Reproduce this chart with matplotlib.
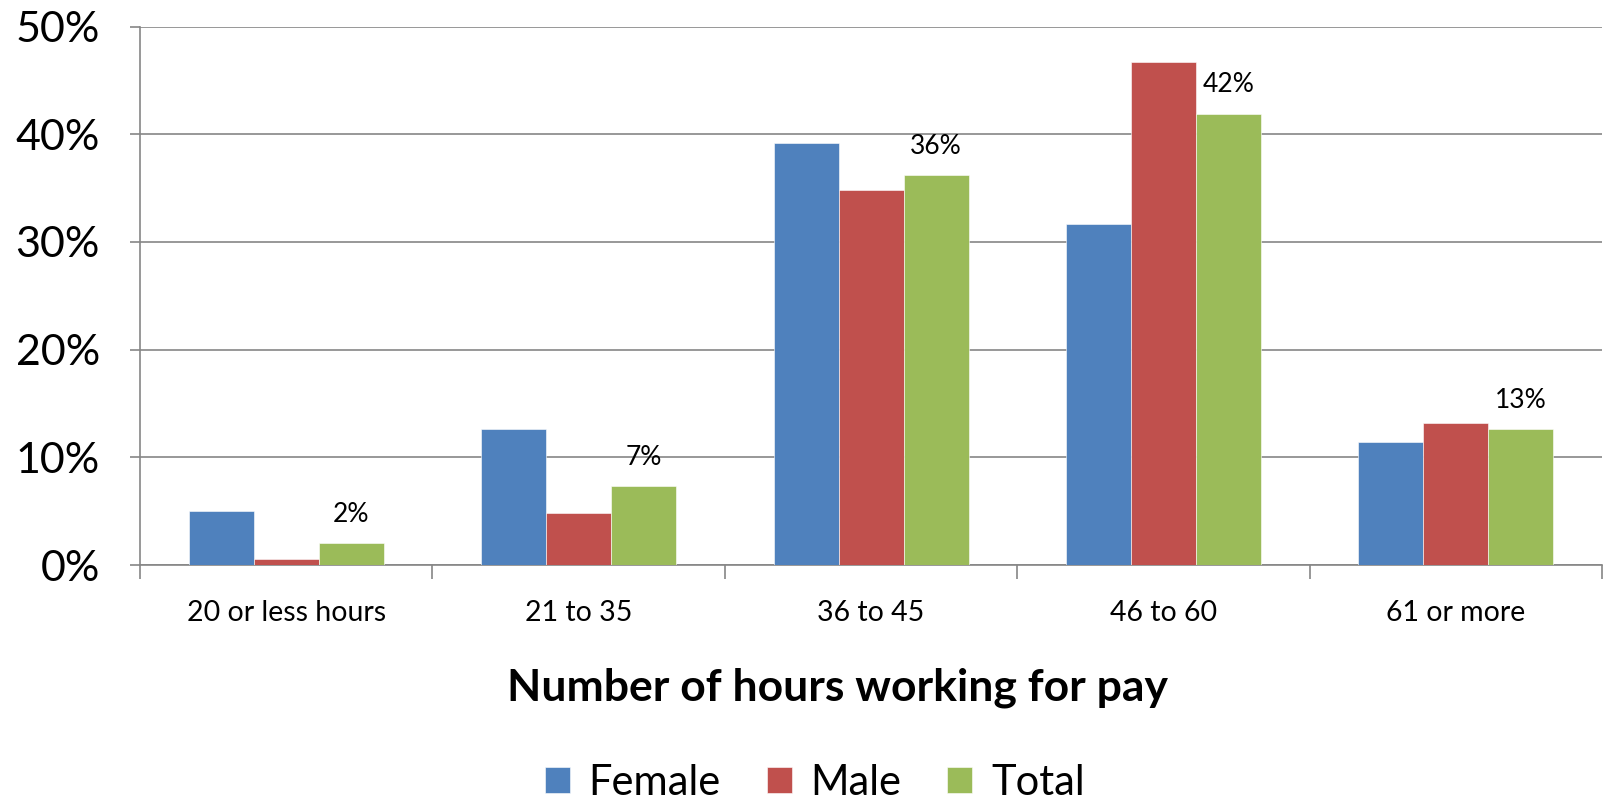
import matplotlib.pyplot as plt
import numpy as np
from matplotlib.ticker import PercentFormatter

plt.rcParams['font.family'] = ['Lato', 'DejaVu Sans']

categories = ["20 or less hours", "21 to 35", "36 to 45", "46 to 60", "61 or more"]
female = [5.0, 12.6, 39.2, 31.7, 11.4]
male = [0.6, 4.8, 34.8, 46.7, 13.2]
total = [2.0, 7.3, 36.2, 41.9, 12.6]
total_labels = ["2%", "7%", "36%", "42%", "13%"]

series_names = ["Female", "Male", "Total"]
colors = ["#4F81BD", "#C0504D", "#9BBB59"]

fig = plt.figure(figsize=(16.04, 8.02), dpi=100)
ax = fig.add_axes([0.0873, 0.2955, 0.9115, 0.6713])

x = np.arange(len(categories))
w = 2 / 9
for k, (vals, name, c) in enumerate(zip([female, male, total], series_names, colors)):
    ax.bar(x + (k - 1) * w, vals, width=w, color=c, label=name,
           edgecolor="white", linewidth=0.4, zorder=3)

# labels above the total bars
for xi, v, lab in zip(x, total, total_labels):
    ax.annotate(lab, (xi + w, v), xytext=(0, 12), textcoords="offset points",
                ha="center", va="bottom", fontsize=19)

ax.set_xlim(-0.5, len(categories) - 0.5)
ax.set_ylim(0, 50)
ax.set_yticks(np.arange(0, 51, 10))
ax.yaxis.set_major_formatter(PercentFormatter(decimals=0))
ax.tick_params(axis="y", labelsize=31, length=7, color="#868686", width=1.2, pad=22)

ax.set_xticks(np.arange(-0.5, len(categories), 1))
ax.set_xticklabels([])
ax.set_xticks(x, minor=True)
ax.set_xticklabels(categories, minor=True, fontsize=20.5)
ax.tick_params(axis="x", which="major", length=10, color="#868686", width=1.2)
ax.tick_params(axis="x", which="minor", length=0, pad=25)

ax.grid(axis="y", color="#868686", linewidth=1.2, zorder=0)
for s in ["top", "right"]:
    ax.spines[s].set_visible(False)
for s in ["left", "bottom"]:
    ax.spines[s].set_color("#868686")
    ax.spines[s].set_linewidth(1.2)

# axis title sits a bit left of the plot centre, like the original
fig.text(0.522, 0.143, "Number of hours working for pay", fontsize=32,
         fontweight="bold", ha="center", va="center")

fig.legend(loc="center", bbox_to_anchor=(0.508, 0.024), ncol=3, frameon=False,
           fontsize=30, handlelength=0.6, handleheight=0.6, columnspacing=1.1,
           handletextpad=0.45)

fig.savefig("out.png", dpi=100)
